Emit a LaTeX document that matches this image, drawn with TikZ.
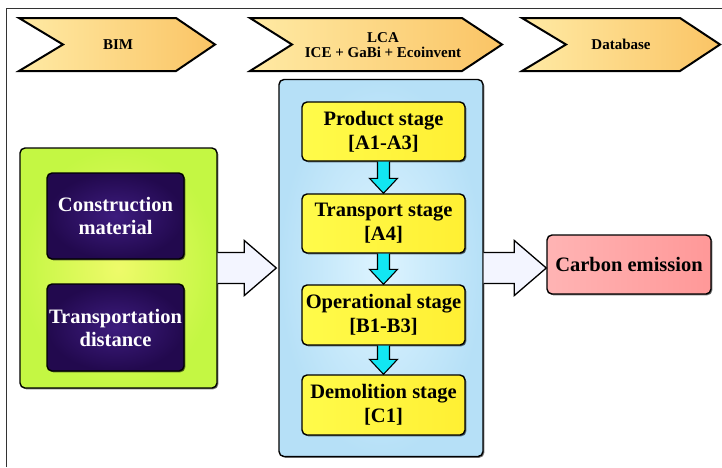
\documentclass[tikz,border=0pt]{standalone}
\usepackage{fontspec}
\setmainfont{Liberation Serif}
\usetikzlibrary{calc,shadows}

\definecolor{chevL}{HTML}{FFEAA4}
\definecolor{chevR}{HTML}{FAC465}
\definecolor{greenIn}{HTML}{EEFA6A}
\definecolor{greenOut}{HTML}{C4F743}
\definecolor{purpIn}{HTML}{3D1C7E}
\definecolor{purpOut}{HTML}{22094E}
\definecolor{blueIn}{HTML}{DDF4FF}
\definecolor{blueOut}{HTML}{B6E0F7}
\definecolor{stageL}{HTML}{FFFB4A}
\definecolor{stageR}{HTML}{FFEF33}
\definecolor{carbL}{HTML}{FFB4B4}
\definecolor{carbR}{HTML}{FF9898}
\definecolor{flowcyan}{HTML}{12E6F2}
\definecolor{hollowfill}{HTML}{F3F5FF}

\tikzset{
  softshadow/.style={drop shadow={shadow xshift=1.3pt,shadow yshift=-1.3pt,opacity=.55,fill=black}},
  chev/.style={draw=black,line width=2pt,line join=miter,left color=chevL,right color=chevR},
  chevtext/.style={align=center,font=\bfseries\fontsize{15}{15.5}\selectfont,inner sep=0pt},
  box/.style={draw=black,line width=1.4pt,rounded corners=5pt,inner sep=0pt,align=center,softshadow},
  inputbox/.style={box,inner color=greenIn,outer color=greenOut},
  itembox/.style={box,inner color=purpIn,outer color=purpOut,text=white,
    font=\bfseries\fontsize{20.5}{23}\selectfont},
  lcapanel/.style={box,inner color=blueIn,outer color=blueOut},
  stagebox/.style={box,left color=stageL,right color=stageR,
    font=\bfseries\fontsize{20.5}{24}\selectfont},
  resultbox/.style={box,left color=carbL,right color=carbR,
    font=\bfseries\fontsize{20.5}{24}\selectfont},
  hollow/.style={draw=black,line width=1.3pt,line join=miter,fill=hollowfill},
  flow/.style={draw=black,line width=1.1pt,line join=miter,fill=flowcyan},
  frameline/.style={draw=black!80,line width=1pt}
}

\begin{document}
\begin{tikzpicture}[x=1pt,y=-1pt]
\useasboundingbox (0,0) rectangle (722,467);

% outer frame (left and top edges)
\draw[frameline] (6,467) -- (6,8) -- (722,8);

% header chevrons
\path[chev] (19,18) -- (176,18) -- (215,44.5) -- (176,71) -- (19,71) -- (63,44.5) -- cycle;
\path[chev] (250,18) -- (462,18) -- (502,44.5) -- (462,71) -- (250,71) -- (292,44.5) -- cycle;
\path[chev] (522,18) -- (680,18) -- (720,44.5) -- (680,71) -- (522,71) -- (566,44.5) -- cycle;
\node[chevtext] (bim) at (118,44.5) {BIM};
\node[chevtext] (lca) at (383,45) {LCA\\ICE + GaBi + Ecoinvent};
\node[chevtext] (db) at (621,44.5) {Database};

% input panel
\node[inputbox,minimum width=197pt,minimum height=240pt] (inputs) at (118.5,268) {};
\node[itembox,minimum width=137pt,minimum height=86pt] (mat) at (115.5,216) {Construction\\material};
\node[itembox,minimum width=137pt,minimum height=87pt] (dist) at (115.5,327.5) {Transportation\\distance};

% LCA panel with its stages
\node[lcapanel,minimum width=204pt,minimum height=377pt] (lcabox) at (381,268) {};
\node[stagebox,minimum width=163pt,minimum height=59pt] (s1) at (383.5,131.5) {Product stage\\{[A1-A3]}};
\node[stagebox,minimum width=163pt,minimum height=59pt] (s2) at (383.5,223.5) {Transport stage\\{[A4]}};
\node[stagebox,minimum width=163pt,minimum height=60pt] (s3) at (383.5,315) {Operational stage\\{[B1-B3]}};
\node[stagebox,minimum width=163pt,minimum height=60pt] (s4) at (383.5,405) {Demolition stage\\{[C1]}};

% result
\node[resultbox,minimum width=164pt,minimum height=59pt] (carbon) at (629,264.5) {Carbon emission};

% stage-to-stage flow arrows
\foreach \a/\b in {s1/s2,s2/s3,s3/s4}{
  \path[flow] ($(\a.south)+(-6pt,0)$) -- ($(\b.north)+(-6pt,15pt)$) -- ($(\b.north)+(-14pt,15pt)$)
    -- (\b.north) -- ($(\b.north)+(14pt,15pt)$) -- ($(\b.north)+(6pt,15pt)$) -- ($(\a.south)+(6pt,0)$);
}

% hollow block arrows between the panels
\coordinate (tipL) at ($(lcabox.west)+(-2pt,0)$);
\path[hollow] ($(inputs.east)+(0,15.5pt)$) -- ($(tipL)+(-32pt,15.5pt)$) -- ($(tipL)+(-32pt,27.5pt)$)
  -- (tipL) -- ($(tipL)+(-32pt,-27.5pt)$) -- ($(tipL)+(-32pt,-15.5pt)$) -- ($(inputs.east)+(0,-15.5pt)$);
\coordinate (tipR) at (carbon.west |- lcabox.east);
\path[hollow] ($(lcabox.east)+(0,15.5pt)$) -- ($(tipR)+(-32pt,15.5pt)$) -- ($(tipR)+(-32pt,27.5pt)$)
  -- (tipR) -- ($(tipR)+(-32pt,-27.5pt)$) -- ($(tipR)+(-32pt,-15.5pt)$) -- ($(lcabox.east)+(0,-15.5pt)$);
\end{tikzpicture}
\end{document}
